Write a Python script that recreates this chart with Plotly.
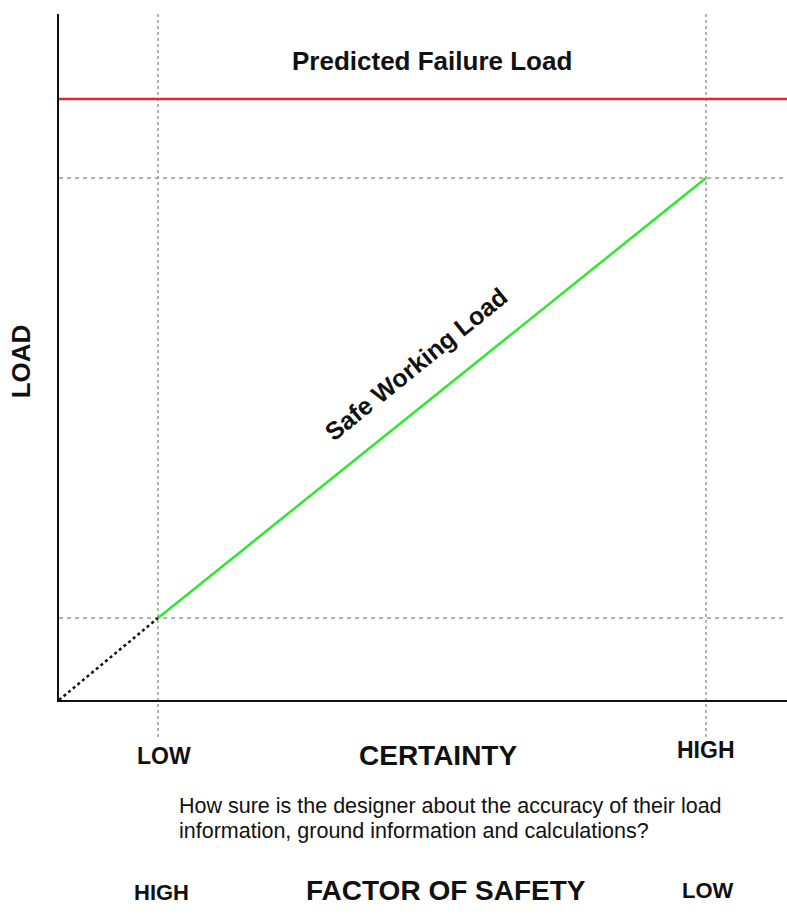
import plotly.graph_objects as go

# Certainty axis (x) and load axis (y), in chart units
certainty_low = 0.99
certainty_high = 6.47
safe_load_low = 0.82
safe_load_high = 5.22
failure_load = 6.01
x_max = 7.28
y_max = 6.86

font_family = "Liberation Sans, Arial, sans-serif"
grey = "#9a9a9a"
ink = "#111111"

fig = go.Figure()

# Safe working load line between the two certainty levels
fig.add_trace(go.Scatter(
    x=[certainty_low, certainty_high], y=[safe_load_low, safe_load_high],
    mode="lines", line=dict(color="#2ee82e", width=2.5), hoverinfo="skip"))

# Extension of the safe working load back to the origin
fig.add_trace(go.Scatter(
    x=[0, certainty_low], y=[0, safe_load_low],
    mode="lines", line=dict(color=ink, width=2.5, dash="dot"), hoverinfo="skip"))

# Predicted failure load
fig.add_trace(go.Scatter(
    x=[0, x_max], y=[failure_load, failure_load],
    mode="lines", line=dict(color="#e8242c", width=2.5), hoverinfo="skip"))

shapes = []
# Horizontal guides at the safe loads
for yv in (safe_load_low, safe_load_high):
    shapes.append(dict(type="line", xref="x", yref="y", x0=0, x1=x_max, y0=yv, y1=yv,
                       line=dict(color=grey, width=1.5, dash="4px,4px"), layer="below"))
# Vertical guides at the certainty levels, running below the axis
for xv in (certainty_low, certainty_high):
    shapes.append(dict(type="line", xref="x", yref="paper", x0=xv, x1=xv, y0=-0.054, y1=1,
                       line=dict(color=grey, width=1.5, dash="dot"), layer="below"))

annotations = [
    # labels inside the plotting area (data coordinates)
    dict(xref="x", yref="y", x=3.73, y=6.39, text="<b>Predicted Failure Load</b>", size=26),
    dict(xref="x", yref="y", x=3.57, y=3.36, text="<b>Safe Working Load</b>",
         textangle=-39, size=25),
    # axis titles and scale words around the plotting area
    dict(xref="paper", yref="paper", x=-0.052, y=0.494, text="<b>LOAD</b>",
         textangle=-90, size=26),
    dict(xref="x", yref="paper", x=certainty_low + 0.06, y=-0.0816, text="<b>LOW</b>", size=23),
    dict(xref="paper", yref="paper", x=0.5206, y=-0.0809, text="<b>CERTAINTY</b>", size=28),
    dict(xref="x", yref="paper", x=certainty_high, y=-0.0729, text="<b>HIGH</b>", size=23),
    dict(xref="paper", yref="paper", x=0.162, y=-0.1545, xanchor="left",
         text="How sure is the designer about the accuracy of their load", size=21.5),
    dict(xref="paper", yref="paper", x=0.162, y=-0.191, xanchor="left",
         text="information, ground information and calculations?", size=21.5),
    dict(xref="paper", yref="paper", x=0.1408, y=-0.2813, text="<b>HIGH</b>", size=22),
    dict(xref="paper", yref="paper", x=0.531, y=-0.277, text="<b>FACTOR OF SAFETY</b>", size=28),
    dict(xref="paper", yref="paper", x=0.892, y=-0.277, text="<b>LOW</b>", size=22),
]
for a in annotations:
    size = a.pop("size")
    a.setdefault("xanchor", "center")
    a.update(showarrow=False, yanchor="middle",
             font=dict(size=size, color=ink, family=font_family))

fig.update_layout(
    width=787, height=922,
    margin=dict(l=59, r=0, t=14, b=222),
    paper_bgcolor="white", plot_bgcolor="white",
    showlegend=False,
    shapes=shapes, annotations=annotations,
    xaxis=dict(range=[0, x_max], showgrid=False, zeroline=False, showticklabels=False,
               ticks="", showline=True, linecolor=ink, linewidth=2),
    yaxis=dict(range=[0, y_max], showgrid=False, zeroline=False, showticklabels=False,
               ticks="", showline=True, linecolor=ink, linewidth=2),
)

fig.write_html("out.html")
